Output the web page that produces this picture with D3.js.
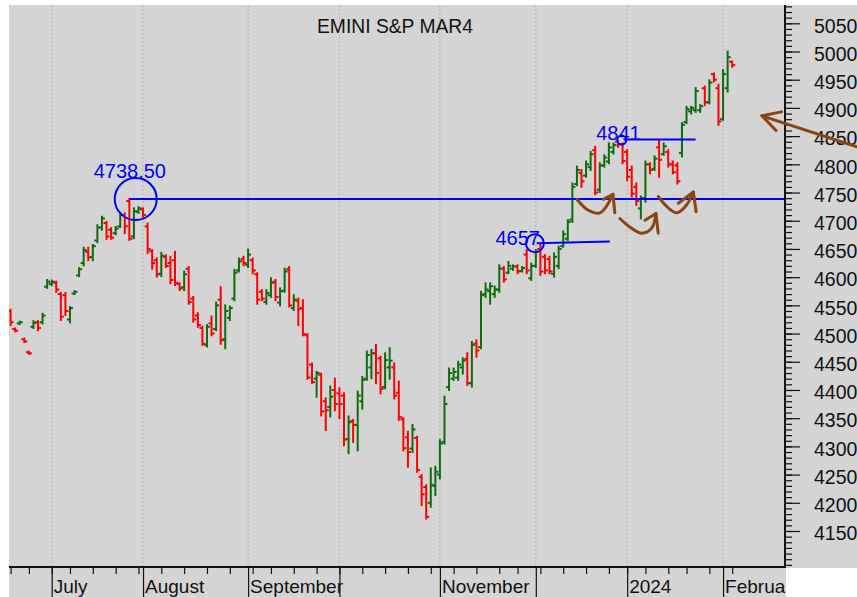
<!DOCTYPE html>
<html>
<head>
<meta charset="utf-8">
<script src="https://cdn.jsdelivr.net/npm/d3@7"></script>
<style>
  html, body { margin: 0; padding: 0; background: #fff; }
  svg { display: block; font-family: "Liberation Sans", Arial, sans-serif; }
</style>
</head>
<body>
<div id="chart"></div>
<script>
// trading days, EMINI S&P MAR4 (daily bars)
const dates = [
  "2023-06-20","2023-06-21","2023-06-22","2023-06-23","2023-06-26","2023-06-27","2023-06-28","2023-06-29","2023-06-30",
  "2023-07-03","2023-07-05","2023-07-06","2023-07-07","2023-07-10","2023-07-11","2023-07-12","2023-07-13","2023-07-14",
  "2023-07-17","2023-07-18","2023-07-19","2023-07-20","2023-07-21","2023-07-24","2023-07-25","2023-07-26","2023-07-27",
  "2023-07-28","2023-07-31",
  "2023-08-01","2023-08-02","2023-08-03","2023-08-04","2023-08-07","2023-08-08","2023-08-09","2023-08-10","2023-08-11",
  "2023-08-14","2023-08-15","2023-08-16","2023-08-17","2023-08-18","2023-08-21","2023-08-22","2023-08-23","2023-08-24",
  "2023-08-25","2023-08-28","2023-08-29","2023-08-30","2023-08-31",
  "2023-09-01","2023-09-05","2023-09-06","2023-09-07","2023-09-08","2023-09-11","2023-09-12","2023-09-13","2023-09-14",
  "2023-09-15","2023-09-18","2023-09-19","2023-09-20","2023-09-21","2023-09-22","2023-09-25","2023-09-26","2023-09-27",
  "2023-09-28","2023-09-29",
  "2023-10-02","2023-10-03","2023-10-04","2023-10-05","2023-10-06","2023-10-09","2023-10-10","2023-10-11","2023-10-12",
  "2023-10-13","2023-10-16","2023-10-17","2023-10-18","2023-10-19","2023-10-20","2023-10-23","2023-10-24","2023-10-25",
  "2023-10-26","2023-10-27","2023-10-30","2023-10-31",
  "2023-11-01","2023-11-02","2023-11-03","2023-11-06","2023-11-07","2023-11-08","2023-11-09","2023-11-10","2023-11-13",
  "2023-11-14","2023-11-15","2023-11-16","2023-11-17","2023-11-20","2023-11-21","2023-11-22","2023-11-24","2023-11-27",
  "2023-11-28","2023-11-29","2023-11-30",
  "2023-12-01","2023-12-04","2023-12-05","2023-12-06","2023-12-07","2023-12-08","2023-12-11","2023-12-12","2023-12-13",
  "2023-12-14","2023-12-15","2023-12-18","2023-12-19","2023-12-20","2023-12-21","2023-12-22","2023-12-26","2023-12-27",
  "2023-12-28","2023-12-29",
  "2024-01-02","2024-01-03","2024-01-04","2024-01-05","2024-01-08","2024-01-09","2024-01-10","2024-01-11","2024-01-12",
  "2024-01-16","2024-01-17","2024-01-18","2024-01-19","2024-01-22","2024-01-23","2024-01-24","2024-01-25","2024-01-26",
  "2024-01-29","2024-01-30","2024-01-31",
  "2024-02-01","2024-02-02","2024-02-05"
];

const opens = [
  4540,4508,4518,4490,4467,4512,4520,4520,4583,4588,
  4590,4570,4568,4525,4571,4603,4625,4645,4636,4665,
  4688,4696,4684,4678,4690,4710,4735,4672,4716,4720,
  4690,4646,4630,4606,4636,4625,4630,4588,4582,4615,
  4562,4532,4510,4480,4518,4508,4560,4490,4528,4562,
  4612,4632,4622,4630,4605,4574,4556,4568,4592,4555,
  4576,4614,4545,4558,4545,4497,4445,4420,4427,4380,
  4370,4400,4394,4390,4313,4345,4338,4380,4420,4440,
  4465,4456,4405,4440,4440,4395,4348,4316,4296,4315,
  4246,4228,4200,4230,4250,4308,4405,4420,4422,4440,
  4455,4412,4482,4476,4570,4575,4570,4578,4615,4608,
  4615,4619,4611,4640,4598,4620,4650,4636,4632,4606,
  4620,4655,4668,4702,4765,4785,4780,4795,4825,4755,
  4798,4805,4822,4840,4835,4822,4790,4760,4722,4740,
  4800,4792,4830,4818,4822,4800,4798,4820,4875,4894,
  4896,4896,4935,4910,4960,4935,4880,4935,4982
];
const highs = [
  4542,4509,4521,4491,4468,4522,4522,4535,4595,4594,
  4592,4572,4572,4547,4575,4616,4652,4652,4657,4692,
  4707,4698,4687,4689,4714,4713,4738.5,4722,4724,4722,
  4695,4648,4633,4643,4639,4636,4645,4589,4610,4618,
  4565,4536,4512,4515,4530,4555,4582,4550,4548,4613,
  4633,4636,4649,4633,4607,4577,4577,4598,4595,4580,
  4615,4618,4568,4562,4559,4499,4447,4432,4429,4385,
  4406,4420,4403,4394,4353,4347,4397,4423,4468,4471,
  4480,4459,4465,4474,4447,4415,4350,4326,4338,4317,
  4249,4231,4261,4264,4311,4388,4438,4438,4450,4456,
  4465,4485,4488,4574,4589,4589,4583,4621,4618,4627,
  4621,4621,4618,4648,4624,4648,4657,4639,4636,4642,
  4654,4681,4701,4766,4796,4790,4805,4822,4831,4802,
  4816,4837,4837,4842,4837,4825,4796,4766,4743,4805,
  4802,4814,4843,4837,4825,4805,4802,4873,4902,4902,
  4935,4905,4938,4949,4961,4941,4967,4999.75,4982
];
const lows = [
  4515,4504,4517,4485,4464,4510,4506,4518,4581,4586,
  4574,4524,4533,4520,4570,4602,4621,4630,4630,4662,
  4684,4668,4668,4676,4689,4678,4666,4669,4714,4707,
  4643,4615,4601,4602,4618,4589,4586,4577,4577,4553,
  4521,4512,4480,4477,4497,4506,4482,4474,4524,4559,
  4610,4621,4618,4607,4553,4559,4553,4565,4559,4550,
  4574,4548,4542,4515,4497,4420,4412,4388,4355,4329,
  4353,4364,4350,4302,4288,4308,4293,4367,4418,4421,
  4412,4394,4403,4420,4385,4347,4293,4264,4290,4255,
  4196,4172,4193,4214,4243,4305,4400,4418,4418,4429,
  4409,4406,4459,4474,4565,4553,4565,4574,4592,4607,
  4613,4607,4610,4607,4595,4618,4604,4607,4607,4601,
  4616,4654,4666,4698,4763,4760,4778,4790,4747,4751,
  4796,4802,4819,4831,4802,4772,4743,4728,4704,4734,
  4784,4790,4778,4817,4796,4784,4766,4814,4873,4890,
  4893,4893,4905,4908,4947,4870,4879,4929,4973
];
const closes = [
  4520,4505,4520,4486,4465,4519,4510,4532,4592,4592,
  4578,4530,4540,4545,4574,4614,4648,4635,4655,4688,
  4704,4672,4670,4686,4710,4690,4668,4717,4722,4710,
  4650,4625,4605,4638,4620,4595,4590,4580,4605,4556,
  4525,4515,4482,4512,4500,4550,4488,4540,4545,4608,
  4628,4625,4640,4612,4560,4562,4572,4590,4565,4575,
  4610,4550,4560,4544,4499,4422,4414,4430,4362,4364,
  4388,4375,4375,4312,4343,4338,4390,4418,4462,4465,
  4430,4402,4453,4452,4390,4352,4297,4290,4330,4258,
  4215,4175,4232,4255,4305,4375,4430,4432,4445,4452,
  4412,4480,4470,4568,4578,4584,4578,4615,4596,4620,
  4619,4610,4616,4612,4620,4645,4610,4612,4610,4636,
  4650,4676,4698,4760,4790,4770,4800,4818,4750,4798,
  4812,4830,4834,4836,4806,4778,4748,4735,4740,4800,
  4790,4810,4808,4832,4800,4786,4770,4870,4898,4900,
  4930,4903,4910,4945,4950,4876,4960,4990,4976
];

// axis labels
const priceLabels = [5050,5000,4950,4900,4850,4800,4750,4700,4650,4600,4550,4500,4450,4400,4350,4300,4250,4200,4150];
const monthStarts = ["2023-07-03","2023-08-01","2023-09-01","2023-10-02","2023-11-01","2023-12-01","2024-01-02","2024-02-01"];
const monthNames  = ["July","August","September","","November","","2024","February"];

// annotations: [bar index, price]
const peakLevel = 4738.5, peakLabel = "4738.50";
const midLevel = [[115.2, 4660], [131.2, 4663]], midLabel = "4657";
const decLevel = [[134.2, 4844], [150.0, 4844]], decLabel = "4841";
const swooshes = [
  { path: [[124.0,4738],[126.4,4719],[129.1,4714],[131.9,4747]], head: [[129.8,4738],[131.9,4747],[132.3,4714]] },
  { path: [[133.4,4704],[135.9,4687],[138.2,4678],[140.4,4687],[141.3,4713]], head: [[138.9,4701],[141.3,4713],[141.8,4678]] },
  { path: [[141.8,4743],[143.7,4725],[145.9,4714],[148.0,4728],[149.5,4751]], head: [[146.2,4731],[149.5,4751],[150.1,4716]] }
];
const bigArrow = { path: [[185.3,4831],[164.5,4886]], head: [[168.8,4893],[164.5,4886],[167.6,4860]] };

const W = 857, H = 597;
const plotL = 9, plotT = 5, plotR = 785, plotB = 567;
const RED = "#ff0000", GREEN = "#0f6b0f", BLUE = "#0000ff", BROWN = "#8b4513";

const bars = dates.map((d, i) => ({ date: d, o: opens[i], h: highs[i], l: lows[i], c: closes[i] }));

const x = d3.scalePoint().domain(dates).range([10.6, 732.2]);
const xi = d3.scaleLinear().domain([0, dates.length - 1]).range([10.6, 732.2]);
const y = d3.scaleLinear().domain([4150, 5050]).range([531, 23.3]);

const svg = d3.select("#chart").append("svg").attr("width", W).attr("height", H);

// background
svg.append("rect").attr("x", plotL).attr("y", plotT).attr("width", W - plotL).attr("height", H - plotT).attr("fill", "#d4d4d4");
svg.append("rect").attr("x", plotR + 1).attr("y", plotB + 1).attr("width", W - plotR).attr("height", H - plotB).attr("fill", "#fff");

svg.append("clipPath").attr("id", "plot").append("rect")
  .attr("x", plotL).attr("y", plotT).attr("width", plotR - plotL).attr("height", plotB - plotT);
svg.append("clipPath").attr("id", "xlab").append("rect")
  .attr("x", 0).attr("y", plotB).attr("width", plotR).attr("height", H - plotB);

// month grid
svg.append("g").selectAll("line").data(monthStarts).join("line")
  .attr("x1", d => x(d)).attr("x2", d => x(d))
  .attr("y1", plotT).attr("y2", plotB)
  .attr("stroke", "#b4b4b4").attr("stroke-dasharray", "2,2");

// title
svg.append("text").attr("x", 395).attr("y", 33).attr("text-anchor", "middle")
  .attr("font-size", 20).attr("textLength", 156).attr("lengthAdjust", "spacingAndGlyphs")
  .attr("fill", "#111").text("EMINI S&P MAR4");

// OHLC bars
const plot = svg.append("g").attr("clip-path", "url(#plot)");
const barG = plot.selectAll(".bar").data(bars).join("g").attr("class", "bar")
  .attr("stroke", d => d.c < d.o ? RED : GREEN).attr("stroke-width", 2);
barG.append("line").attr("x1", d => x(d.date)).attr("x2", d => x(d.date))
  .attr("y1", d => y(d.h) - 1).attr("y2", d => y(d.l) + 1);
barG.append("line").attr("x1", d => x(d.date) - 3).attr("x2", d => x(d.date))
  .attr("y1", d => y(d.o)).attr("y2", d => y(d.o));
barG.append("line").attr("x1", d => x(d.date)).attr("x2", d => x(d.date) + 3)
  .attr("y1", d => y(d.c)).attr("y2", d => y(d.c));

// blue annotations
const ann = plot.append("g").attr("stroke", BLUE).attr("stroke-width", 2).attr("fill", "none");
ann.append("line").attr("x1", xi(26)).attr("x2", plotR).attr("y1", y(peakLevel)).attr("y2", y(peakLevel));
ann.append("circle").attr("cx", xi(27.4)).attr("cy", y(peakLevel)).attr("r", 21);
ann.append("line").attr("x1", xi(midLevel[0][0])).attr("y1", y(midLevel[0][1]))
  .attr("x2", xi(midLevel[1][0])).attr("y2", y(midLevel[1][1]));
ann.append("circle").attr("cx", xi(114.8)).attr("cy", y(4660)).attr("r", 9);
ann.append("line").attr("x1", xi(decLevel[0][0])).attr("y1", y(decLevel[0][1]))
  .attr("x2", xi(decLevel[1][0])).attr("y2", y(decLevel[1][1]));
ann.append("circle").attr("cx", xi(133.8)).attr("cy", y(4843)).attr("r", 4.5);

const annText = plot.append("g").attr("fill", BLUE).attr("font-size", 20);
annText.append("text").attr("x", xi(26.1)).attr("y", y(4775)).attr("text-anchor", "middle").text(peakLabel);
annText.append("text").attr("x", xi(115.9)).attr("y", y(4657)).attr("text-anchor", "end").text(midLabel);
annText.append("text").attr("x", xi(133.1)).attr("y", y(4844)).attr("text-anchor", "middle").text(decLabel);

// brown swooshes
const line = d3.line().x(p => xi(p[0])).y(p => y(p[1]));
const brown = plot.append("g").attr("stroke", BROWN).attr("stroke-width", 3).attr("fill", "none")
  .attr("stroke-linecap", "round").attr("stroke-linejoin", "round");
swooshes.forEach(s => {
  brown.append("path").attr("d", line.curve(d3.curveCatmullRom)(s.path));
  brown.append("path").attr("d", line.curve(d3.curveLinear)(s.head));
});

// right axis
const yAxisG = svg.append("g").attr("transform", `translate(${plotR},0)`);
yAxisG.append("g")
  .call(d3.axisRight(y).tickValues(d3.range(4090, 5081, 10)).tickSize(7).tickFormat(""))
  .call(g => g.select(".domain").remove());
yAxisG.append("g")
  .call(d3.axisRight(y).tickValues(priceLabels).tickSize(15).tickPadding(14).tickFormat(d3.format("d")))
  .call(g => g.select(".domain").remove())
  .call(g => g.selectAll("text").attr("font-size", 19.5).attr("fill", "#111")
    .attr("font-family", "Liberation Sans, Arial, sans-serif").attr("dy", "0.45em"));
yAxisG.selectAll("line").attr("stroke", "#111").attr("stroke-width", 1.2);
svg.append("line").attr("x1", plotR).attr("x2", plotR).attr("y1", plotT).attr("y2", plotB + 1)
  .attr("stroke", "#111").attr("stroke-width", 2);

// bottom axis
const weekStarts = dates.filter((d, i) => i === 0 ||
  +d3.timeMonday.floor(new Date(d + "T12:00")) !== +d3.timeMonday.floor(new Date(dates[i - 1] + "T12:00")));
const xAxisG = svg.append("g").attr("transform", `translate(0,${plotB})`);
xAxisG.append("g").call(d3.axisBottom(x).tickValues(weekStarts).tickSize(7).tickFormat(""))
  .call(g => g.select(".domain").remove());
xAxisG.append("g").call(d3.axisBottom(x).tickValues(monthStarts).tickSize(H - plotB).tickFormat(""))
  .call(g => g.select(".domain").remove());
xAxisG.selectAll("line").attr("stroke", "#111").attr("stroke-width", 1.2);
svg.append("line").attr("x1", plotL).attr("x2", plotR + 1).attr("y1", plotB).attr("y2", plotB)
  .attr("stroke", "#111").attr("stroke-width", 2);
svg.append("g").attr("clip-path", "url(#xlab)").selectAll("text").data(monthStarts).join("text")
  .attr("x", d => x(d) + 2).attr("y", 592.5).attr("font-size", 19).attr("fill", "#111")
  .text((d, i) => monthNames[i]);

// big arrow pointing at the price
const arrowG = svg.append("g").attr("stroke", BROWN).attr("stroke-width", 3).attr("fill", "none")
  .attr("stroke-linecap", "round").attr("stroke-linejoin", "round");
arrowG.append("path").attr("d", line.curve(d3.curveLinear)(bigArrow.path));
arrowG.append("path").attr("d", line.curve(d3.curveLinear)(bigArrow.head));
</script>
</body>
</html>
